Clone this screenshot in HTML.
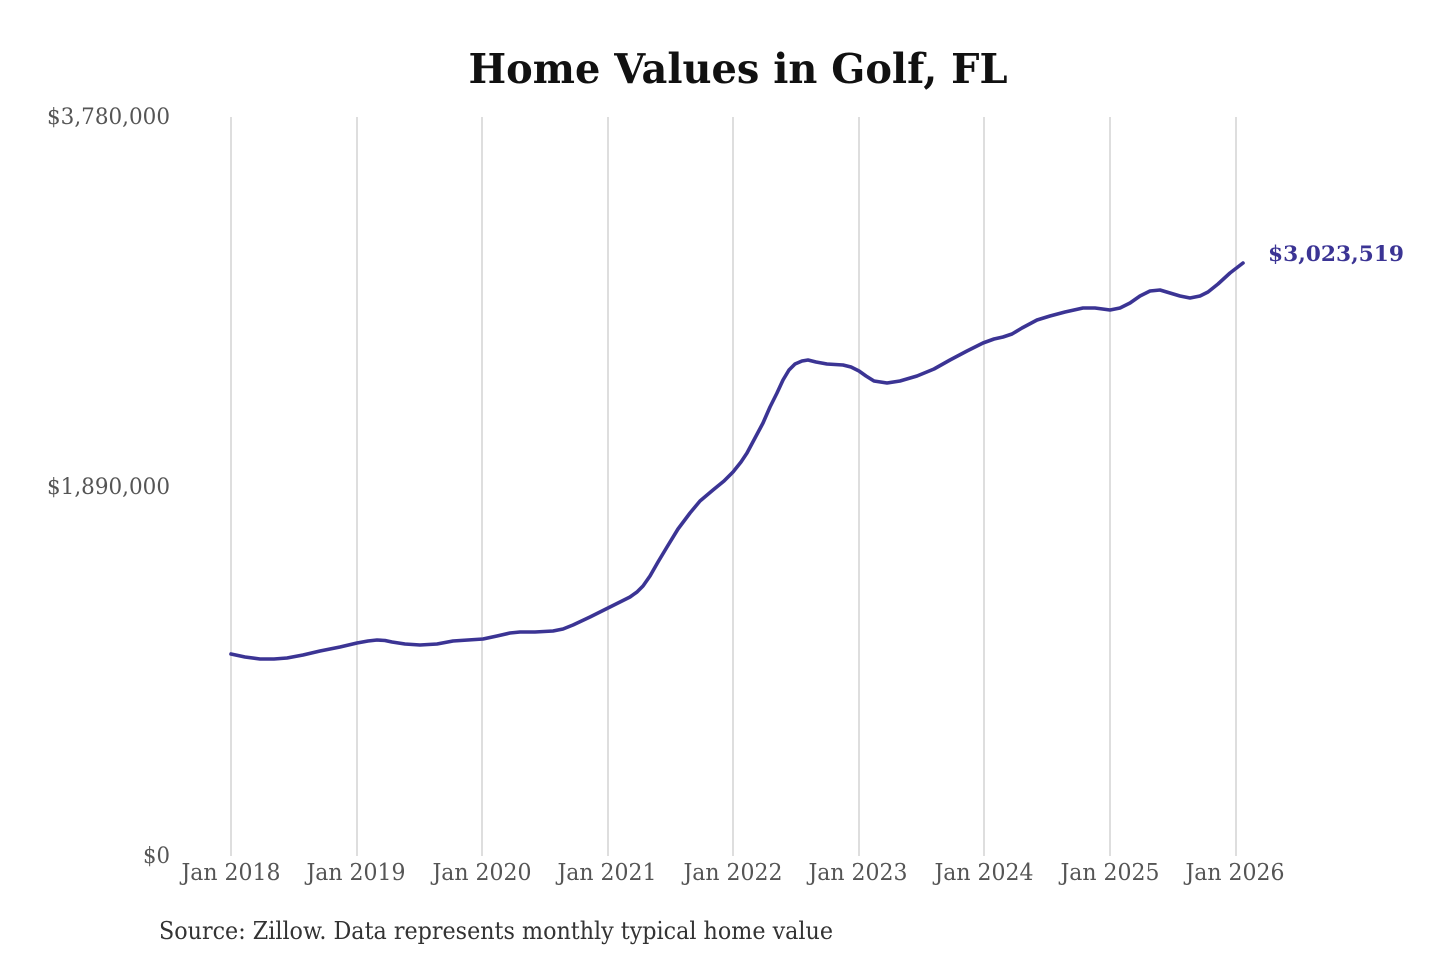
<!DOCTYPE html>
<html>
<head>
<meta charset="utf-8">
<style>
html,body{margin:0;padding:0;background:#fff;}
svg{display:block;}
text{font-family:"DejaVu Serif","Liberation Serif",serif;}
</style>
</head>
<body>
<svg width="1440" height="960" viewBox="0 0 1440 960" xmlns="http://www.w3.org/2000/svg">
<rect width="1440" height="960" fill="#fff"/>
<text x="738" y="83" text-anchor="middle" font-size="41" font-weight="bold" fill="#111" textLength="539" lengthAdjust="spacingAndGlyphs">Home Values in Golf, FL</text>
<g stroke="#c8c8c8" stroke-width="1.2">
<line x1="231" y1="117" x2="231" y2="856"/>
<line x1="357" y1="117" x2="357" y2="856"/>
<line x1="482" y1="117" x2="482" y2="856"/>
<line x1="608" y1="117" x2="608" y2="856"/>
<line x1="733" y1="117" x2="733" y2="856"/>
<line x1="859" y1="117" x2="859" y2="856"/>
<line x1="984" y1="117" x2="984" y2="856"/>
<line x1="1110" y1="117" x2="1110" y2="856"/>
<line x1="1236" y1="117" x2="1236" y2="856"/>
</g>
<g font-size="22" fill="#555" text-anchor="end">
<text x="170" y="124" textLength="123" lengthAdjust="spacingAndGlyphs">$3,780,000</text>
<text x="170" y="494" textLength="123" lengthAdjust="spacingAndGlyphs">$1,890,000</text>
<text x="170" y="863" textLength="27" lengthAdjust="spacingAndGlyphs">$0</text>
</g>
<g font-size="23" fill="#555" text-anchor="middle">
<text x="231" y="880" textLength="99" lengthAdjust="spacingAndGlyphs">Jan 2018</text>
<text x="356" y="880" textLength="99" lengthAdjust="spacingAndGlyphs">Jan 2019</text>
<text x="482" y="880" textLength="99" lengthAdjust="spacingAndGlyphs">Jan 2020</text>
<text x="607" y="880" textLength="99" lengthAdjust="spacingAndGlyphs">Jan 2021</text>
<text x="733" y="880" textLength="99" lengthAdjust="spacingAndGlyphs">Jan 2022</text>
<text x="858" y="880" textLength="99" lengthAdjust="spacingAndGlyphs">Jan 2023</text>
<text x="984" y="880" textLength="99" lengthAdjust="spacingAndGlyphs">Jan 2024</text>
<text x="1110" y="880" textLength="99" lengthAdjust="spacingAndGlyphs">Jan 2025</text>
<text x="1235" y="880" textLength="99" lengthAdjust="spacingAndGlyphs">Jan 2026</text>
</g>
<polyline fill="none" stroke="#3b3494" stroke-width="3.6" stroke-linejoin="round" stroke-linecap="round"
points="231,654 245,657 260,659 274,659 287,658 303,655 320,651 340,647 357,643 368,641 377,640 385,640.5 392,642 405,644 420,645 437,644 453,641 468,640 483,639 497,636 510,633 520,632 535,632 553,631 563,629 573,625 590,617 608,608 620,602 630,597 637,592 643,586 650,576 658,562 667,547 678,529 690,513 700,501 713,490 724,481 733,472 741,462 747,453 755,438 763,423 770,407 777,393 783,380 789,370 795,364 802,361 808,360 816,362 827,364 843,365 851,367 859,371 866,376 874,381 887,383 900,381 917,376 934,369 950,360 967,351 983,343 994,339 1003,337 1012,334 1022,328 1037,320 1050,316 1065,312 1083,308 1095,308 1110,310 1120,308 1130,303 1140,296 1150,291 1160,290 1170,293 1180,296 1190,298 1200,296 1208,292 1218,284 1230,273 1243,263"/>
<text x="1268" y="261" font-size="21" font-weight="bold" fill="#3b3494" textLength="136" lengthAdjust="spacingAndGlyphs">$3,023,519</text>
<text x="159" y="939" font-size="24" fill="#333" textLength="674" lengthAdjust="spacingAndGlyphs">Source: Zillow. Data represents monthly typical home value</text>
</svg>
</body>
</html>
